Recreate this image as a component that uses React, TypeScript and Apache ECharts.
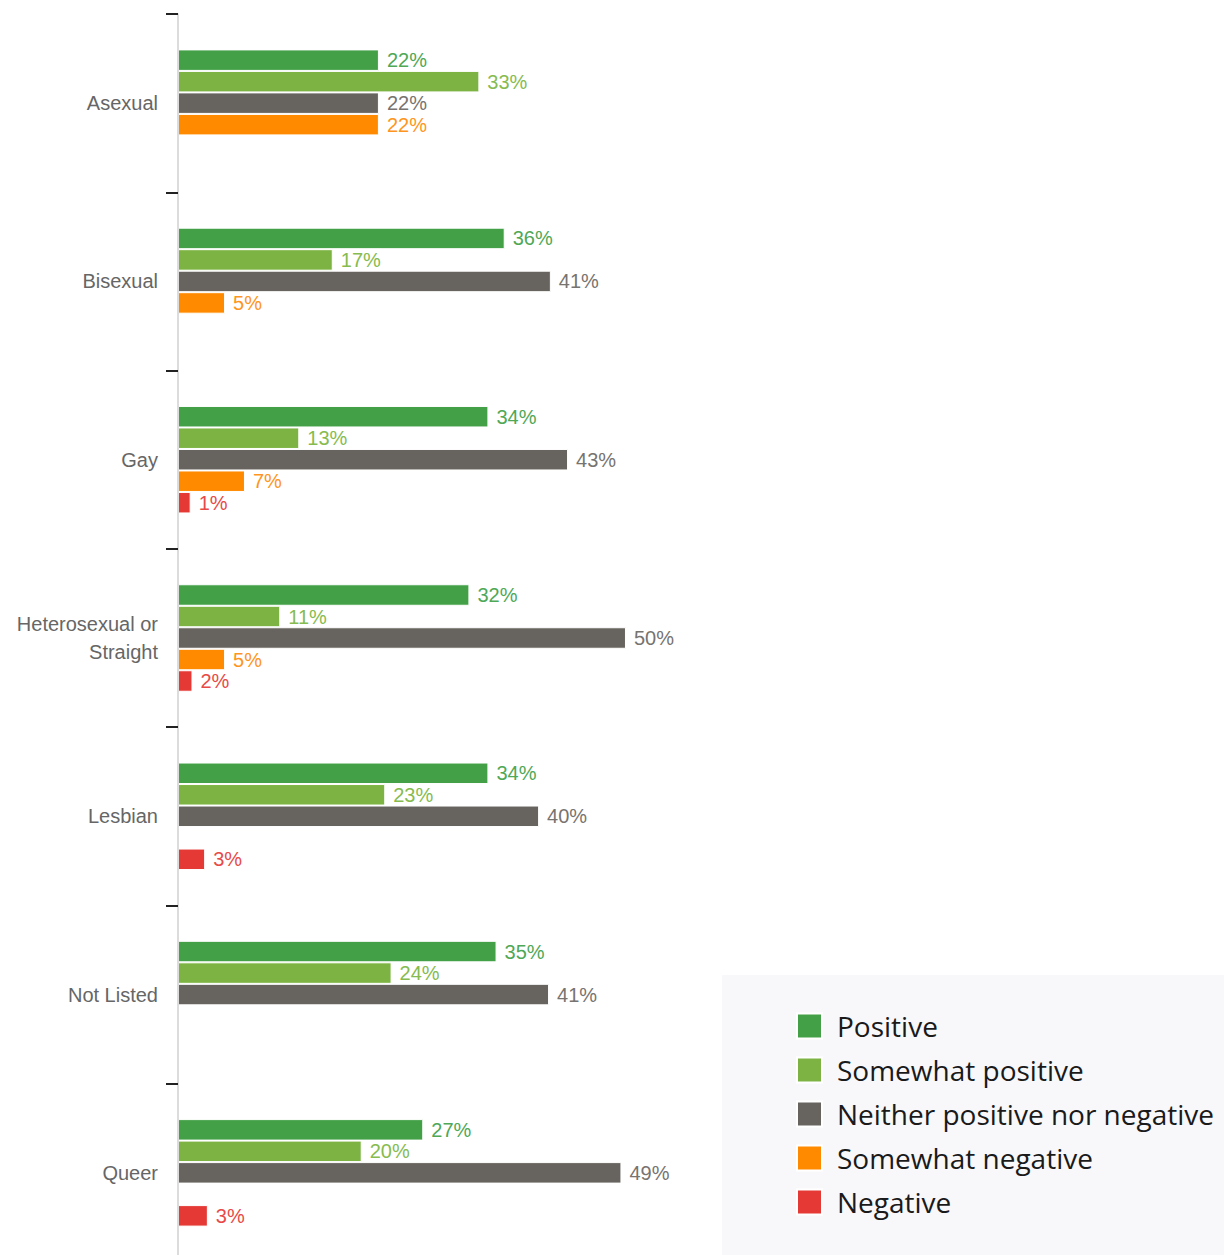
import React, { useEffect, useRef } from "react";
import * as echarts from "echarts";

const categories = ["Asexual", "Bisexual", "Gay", "Heterosexual or Straight", "Lesbian", "Not Listed", "Queer"];
const seriesNames = ["Positive", "Somewhat positive", "Neither positive nor negative", "Somewhat negative", "Negative"];
const positive = [22.2, 36.1, 34.3, 32.2, 34.3, 35.2, 27.1];
const somewhatPositive = [33.3, 17.1, 13.4, 11.3, 22.9, 23.6, 20.3];
const neither = [22.2, 41.2, 43.1, 49.5, 39.9, 41.0, 49.0];
const somewhatNegative = [22.2, 5.2, 7.4, 5.2, 0, 0, 0];
const negative = [0, 0, 1.4, 1.6, 3.0, 0, 3.3];

const colors = ["#43a047", "#7cb342", "#67635e", "#ff8a00", "#e53935"];
const labelColors = ["#4ea856", "#86bb4f", "#77736f", "#ff9520", "#e84a47"];

export default function App() {
  const ref = useRef<HTMLDivElement>(null);
  useEffect(() => {
    if (!ref.current) return;
    const chart = echarts.init(ref.current, null, { renderer: "svg" });
    const allData = [positive, somewhatPositive, neither, somewhatNegative, negative];
    const font = "'Liberation Sans', Arial, sans-serif";
    chart.setOption({
      animation: false,
      graphic: [
        {
          type: "rect",
          left: 722,
          top: 975,
          shape: { width: 502, height: 290 },
          style: { fill: "#f8f8fb" },
          z: 0,
        },
      ],
      legend: {
        orient: "vertical",
        left: 796,
        top: 1012,
        padding: 0,
        itemWidth: 25,
        itemHeight: 25,
        itemGap: 16,
        icon: "rect",
        data: seriesNames,
        textStyle: {
          fontFamily: "'Open Sans', sans-serif",
          fontSize: 28,
          color: "#1a1a1a",
          lineHeight: 25,
          padding: [0, 0, 0, 10],
        },
        z: 5,
      },
      grid: { left: 178, right: 141, top: 14, bottom: 0, containLabel: false },
      xAxis: {
        type: "value",
        min: 0,
        max: 100,
        show: false,
        splitLine: { show: false },
      },
      yAxis: {
        type: "category",
        inverse: true,
        data: categories,
        z: 3,
        axisLine: { show: true, lineStyle: { color: "#d0d0d0", width: 1.5 } },
        axisTick: { show: true, length: 12, lineStyle: { color: "#222", width: 2 } },
        axisLabel: {
          margin: 20,
          color: "#666",
          fontSize: 20,
          fontFamily: font,
          lineHeight: 28,
          formatter: (v: string) => v.replace(" or ", " or\n"),
        },
      },
      series: seriesNames.map((name, i) => ({
        name,
        type: "bar",
        data: allData[i],
        barWidth: 21.5,
        barGap: "0%",
        itemStyle: { color: colors[i], borderColor: "#fff", borderWidth: 1 },
        label: {
          show: true,
          position: "right",
          distance: 8,
          color: labelColors[i],
          fontSize: 20,
          fontFamily: font,
          formatter: (p: any) => (p.value > 0 ? Math.round(p.value) + "%" : ""),
        },
      })),
    });
    return () => chart.dispose();
  }, []);
  return (
    <div style={{ position: "absolute", left: 0, top: 0, width: 1224, height: 1255, overflow: "hidden", background: "#fff" }}>
      <div ref={ref} style={{ width: 1224, height: 1262 }} />
    </div>
  );
}
